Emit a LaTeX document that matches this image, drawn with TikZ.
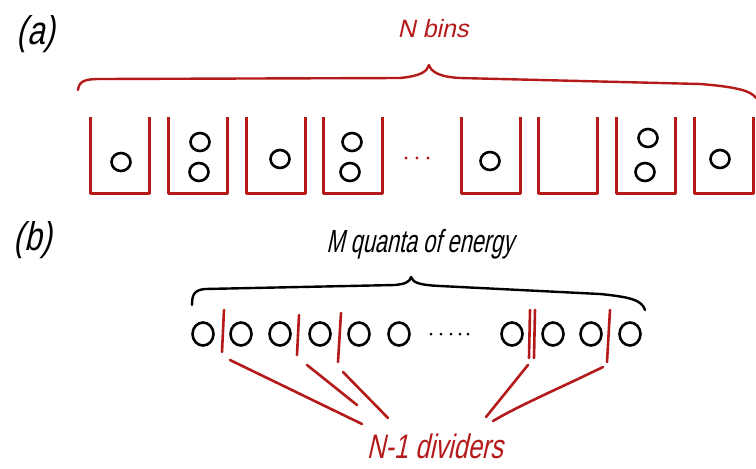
\documentclass[tikz,border=0pt]{standalone}
\usepackage{fontspec}
\newfontfamily\hand[FakeSlant=0.22]{Liberation Sans}
\newfontfamily\handn[FakeSlant=0.22,FakeStretch=0.78]{Liberation Sans}
\newfontfamily\handm[FakeSlant=0.22,FakeStretch=0.68]{Liberation Sans}
\newfontfamily\handd[FakeSlant=0.22,FakeStretch=0.75]{Liberation Sans}
\definecolor{hred}{RGB}{180,26,26}
\begin{document}
\begin{tikzpicture}[x=1pt,y=-1pt,
  binline/.style={draw=hred,line width=3pt,line join=round},
  ball/.style={draw=black,line width=2.6pt},
  bracea/.style={draw=hred,line width=2.4pt,line cap=round,line join=round},
  braceb/.style={draw=black,line width=2.4pt,line cap=round,line join=round},
  divider/.style={draw=hred,line width=2.6pt,line cap=round},
  pointer/.style={draw=hred,line width=2.6pt,line cap=round},
  lbl/.style={inner sep=0pt,anchor=center}]
\useasboundingbox (0,0) rectangle (756,469);

% labels
\node[lbl] (la) at (36,34) {\handn\fontsize{40}{40}\selectfont (a)};
\node[lbl] (lb) at (33,240) {\handn\fontsize{40}{40}\selectfont (b)};

% ---------- (a) ----------
\node[lbl,text=hred] (nbins) at (433,29) {\hand\fontsize{25}{25}\selectfont N bins};
\draw[bracea] (78,90) .. controls (79,81) and (85,79) .. (100,79)
  -- (400,78) .. controls (420,76) and (427,72) .. (429,65)
  .. controls (431,72) and (440,77) .. (460,78)
  -- (700,84) .. controls (738,87) and (751,91) .. (756,98);

\foreach \x in {90,168,246,323,461,538,616,694}
  \draw[binline] (\x,117) -- (\x,193) -- (\x+59,193) -- (\x+59,117);

\foreach \p in {(121,162),(200,142),(199,172),(280,159),(352,142),(350,172),(490,161),(648,138),(645,172),(720,159)}
  \draw[ball] \p ellipse [x radius=9.5, y radius=9];

\foreach \x in {406,417,428}
  \fill[hred] (\x,158) circle (1.6);

% ---------- (b) ----------
\node[lbl] (mq) at (420,244) {\handm\fontsize{32}{32}\selectfont M quanta of energy};
\draw[braceb] (192,305) .. controls (192,295) and (194,290) .. (205,289)
  -- (395,285) .. controls (405,284) and (410,282) .. (411,277)
  .. controls (413,283) and (420,285) .. (440,286)
  -- (600,294) .. controls (630,297) and (642,300) .. (645,310);

\foreach \x in {203,241,280,320,359,399,512,553,591,630}
  \draw[ball] (\x,334) ellipse [x radius=10.5, y radius=11.5];

\foreach \x in {431,441,451,460,468}
  \fill (\x,334) circle (1.5);

\coordinate (d1t) at (224,310); \coordinate (d1b) at (222,352);
\coordinate (d2t) at (299,315); \coordinate (d2b) at (297,355);
\coordinate (d3t) at (341,313); \coordinate (d3b) at (338,362);
\coordinate (d4t) at (530,310); \coordinate (d4b) at (529,358);
\coordinate (d5t) at (535,310); \coordinate (d5b) at (534,358);
\coordinate (d6t) at (610,310); \coordinate (d6b) at (607,362);
\foreach \d in {1,...,6} \draw[divider] (d\d t) -- (d\d b);

\node[lbl,text=hred] (ndiv) at (435,446) {\handd\fontsize{34}{34}\selectfont N-1 dividers};

\coordinate (s1) at (230,360); \coordinate (e1) at (362,424);
\coordinate (s2) at (307,365); \coordinate (e2) at (357,405);
\coordinate (s3) at (343,372); \coordinate (e3) at (388,418);
\coordinate (s4) at (528,365); \coordinate (e4) at (486,417);
\coordinate (s5) at (603,367); \coordinate (e5) at (493,421);
\draw[pointer] (s1) -- (e1);
\draw[pointer] (s2) -- (e2);
\draw[pointer] (s3) -- (e3);
\draw[pointer] (s4) -- (e4);
\draw[pointer] (s5) .. controls (560,388) and (520,405) .. (e5);
\end{tikzpicture}
\end{document}
